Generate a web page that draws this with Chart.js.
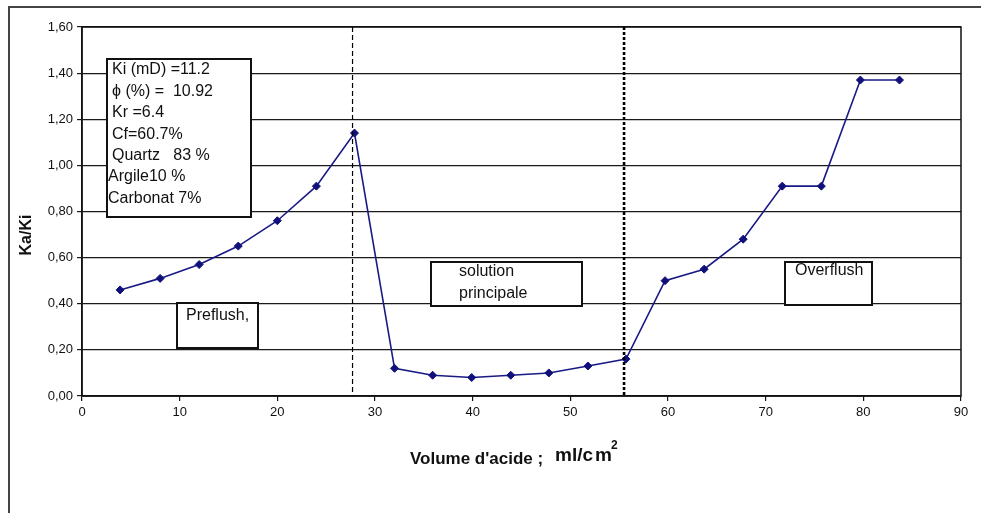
<!DOCTYPE html>
<html>
<head>
<meta charset="utf-8">
<script src="https://cdn.jsdelivr.net/npm/chart.js@4/dist/chart.umd.min.js"></script>
<style>
  html, body { margin: 0; padding: 0; background: #fff; }
  #wrap { position: relative; width: 981px; height: 513px; }
</style>
</head>
<body>
<div id="wrap"><canvas id="chart" width="981" height="513"></canvas></div>
<script>
// Acid volume injected (ml/cm²) and permeability ratio Ka/Ki
const volume = [3.9, 8.0, 12.0, 16.0, 20.0, 24.0, 27.9, 32.0, 35.9, 39.9, 43.9, 47.8, 51.8, 55.7, 59.7, 63.7, 67.7, 71.7, 75.7, 79.7, 83.7];
const kaKi   = [0.46, 0.51, 0.57, 0.65, 0.76, 0.91, 1.14, 0.12, 0.09, 0.08, 0.09, 0.10, 0.13, 0.16, 0.50, 0.55, 0.68, 0.91, 0.91, 1.37, 1.37];

// Volumes where the injection stage changes (preflush -> main solution -> overflush)
const stageLimits = [27.7, 55.5];

// Core properties listed in the info box
const coreInfo = ['Ki (mD) =11.2', '\u03D5 (%) =  10.92', 'Kr =6.4', 'Cf=60.7%', 'Quartz   83 %', 'Argile10 %', 'Carbonat 7%'];
const stageNames = [['Preflush,'], ['solution', 'principale'], ['Overflush']];

const FONT = '"Liberation Sans", Arial, sans-serif';

function boxWithText(ctx, x, y, w, h, lines, tx, ty, lh) {
  ctx.save();
  ctx.fillStyle = '#fff';
  ctx.fillRect(x, y, w, h);
  ctx.strokeStyle = '#111';
  ctx.lineWidth = 2;
  ctx.strokeRect(x, y, w, h);
  ctx.fillStyle = '#111';
  ctx.font = '16px ' + FONT;
  ctx.textBaseline = 'middle';
  ctx.textAlign = 'left';
  lines.forEach((t, i) => {
    const off = Array.isArray(tx) ? tx[i] : tx;
    ctx.fillText(t, off, ty + i * lh);
  });
  ctx.restore();
}

const decor = {
  id: 'decor',
  afterDatasetsDraw(chart) {
    const { ctx, chartArea: a, scales } = chart;
    ctx.save();
    // plot area frame
    ctx.strokeStyle = '#111';
    ctx.lineWidth = 1.5;
    ctx.strokeRect(a.left, a.top, a.right - a.left, a.bottom - a.top);

    // stage limits
    const x1 = scales.x.getPixelForValue(stageLimits[0]);
    const x2 = scales.x.getPixelForValue(stageLimits[1]);
    ctx.strokeStyle = '#000';
    ctx.lineWidth = 1.2;
    ctx.setLineDash([5, 3]);
    ctx.beginPath(); ctx.moveTo(x1, a.top); ctx.lineTo(x1, a.bottom); ctx.stroke();
    ctx.lineWidth = 2.6;
    ctx.setLineDash([3, 2]);
    ctx.beginPath(); ctx.moveTo(x2, a.top); ctx.lineTo(x2, a.bottom); ctx.stroke();
    ctx.setLineDash([]);
    ctx.restore();

    // labels inside the plot
    boxWithText(ctx, 107, 59, 144, 158, coreInfo, [112, 112, 112, 112, 112, 108, 108], 70, 21.4);
    boxWithText(ctx, 177, 303, 81, 45, stageNames[0], 186, 316, 22);
    boxWithText(ctx, 431, 262, 151, 44, stageNames[1], 459, 272, 22);
    boxWithText(ctx, 785, 262, 87, 43, stageNames[2], 795, 271, 22);
  },
  afterDraw(chart) {
    const { ctx } = chart;
    ctx.save();
    // outer frame
    ctx.strokeStyle = '#444';
    ctx.lineWidth = 2;
    ctx.beginPath();
    ctx.moveTo(9, 513); ctx.lineTo(9, 7); ctx.lineTo(981, 7);
    ctx.stroke();

    // axis titles
    ctx.fillStyle = '#111';
    ctx.font = 'bold 16px ' + FONT;
    ctx.textAlign = 'center';
    ctx.textBaseline = 'middle';
    ctx.translate(27, 235);
    ctx.rotate(-Math.PI / 2);
    ctx.fillText('Ka/Ki', 0, 0);
    ctx.setTransform(1, 0, 0, 1, 0, 0);

    ctx.textAlign = 'left';
    ctx.textBaseline = 'alphabetic';
    ctx.font = 'bold 17px ' + FONT;
    ctx.fillText("Volume d'acide ;", 410, 464);
    ctx.font = 'bold 19px ' + FONT;
    ctx.fillText('ml/c', 555, 461);
    ctx.fillText('m', 595, 461);
    ctx.font = 'bold 12px ' + FONT;
    ctx.fillText('2', 611, 449);
    ctx.restore();
  }
};

new Chart(document.getElementById('chart'), {
  type: 'line',
  data: {
    datasets: [{
      data: volume.map((v, i) => ({ x: v, y: kaKi[i] })),
      borderColor: '#1a1a86',
      backgroundColor: '#10107a',
      borderWidth: 1.6,
      pointStyle: 'rectRot',
      pointRadius: 4,
      pointBorderWidth: 1,
      pointBorderColor: '#10107a',
      tension: 0,
      fill: false
    }]
  },
  options: {
    responsive: false,
    animation: false,
    events: [],
    layout: { padding: { left: 0, top: 27, right: 20, bottom: 0 } },
    plugins: { legend: { display: false }, tooltip: { enabled: false } },
    scales: {
      x: {
        type: 'linear',
        min: 0, max: 90,
        afterFit(s) { s.height = 117; },
        ticks: { stepSize: 10, color: '#111', font: { family: FONT, size: 13 }, padding: 4, maxRotation: 0 },
        grid: { drawOnChartArea: false, drawTicks: true, tickLength: 5, color: '#111', lineWidth: 1.2 },
        border: { display: true, color: '#111', width: 1.5 }
      },
      y: {
        type: 'linear',
        min: 0, max: 1.6,
        afterFit(s) { s.width = 82; },
        ticks: {
          stepSize: 0.2, color: '#111', font: { family: FONT, size: 13 }, padding: 4,
          callback: v => v.toFixed(2).replace('.', ',')
        },
        grid: { drawTicks: true, tickLength: 5, color: '#1a1a1a', lineWidth: 1.2 },
        border: { display: true, color: '#111', width: 1.5 }
      }
    }
  },
  plugins: [decor]
});
</script>
</body>
</html>
